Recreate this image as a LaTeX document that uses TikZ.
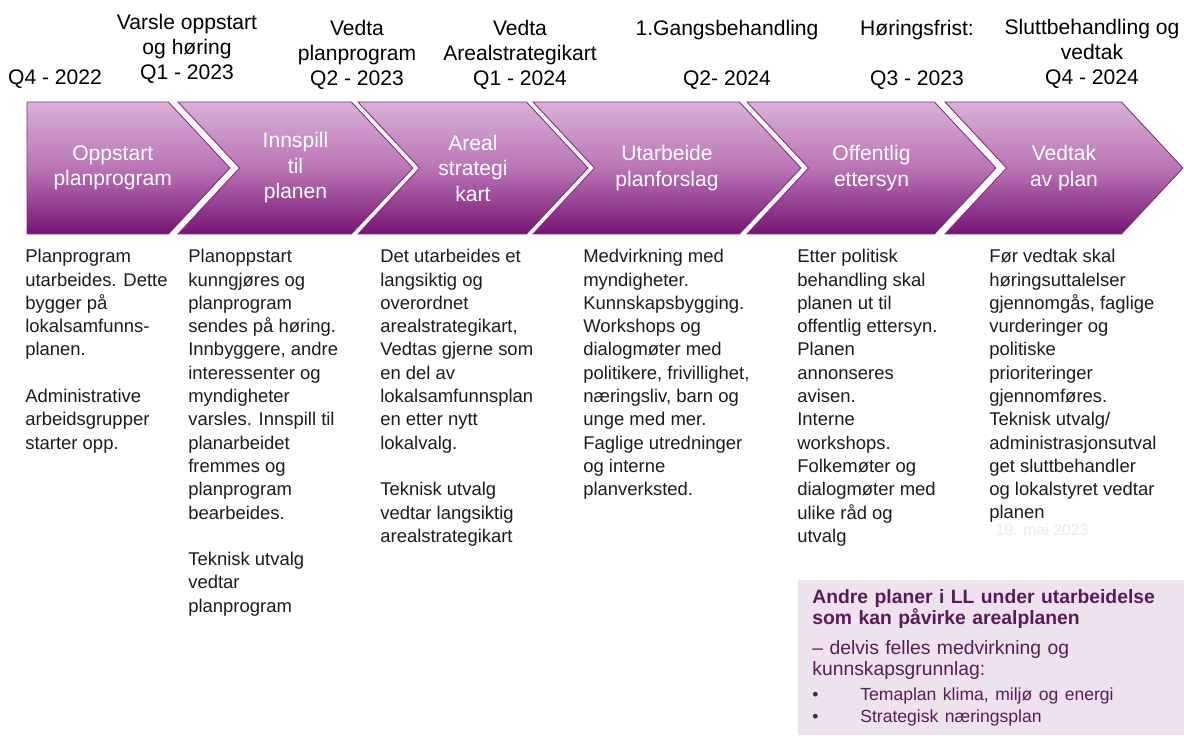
\documentclass[tikz,border=0pt]{standalone}
\usepackage{fontspec}
\setmainfont{Liberation Sans}
\usepackage{xcolor}
\usepackage{tikz}
\usetikzlibrary{shapes.symbols, positioning}

\definecolor{chevtop}{RGB}{218,176,214}
\definecolor{chevmid}{RGB}{186,116,182}
\definecolor{chevbot}{RGB}{118,20,116}
\definecolor{chevedge}{RGB}{130,44,128}
\definecolor{boxfill}{RGB}{239,226,239}
\definecolor{boxtext}{RGB}{88,28,88}
\definecolor{bodytext}{RGB}{28,28,28}
\definecolor{datetext}{RGB}{236,236,236}

\begin{document}
\begin{tikzpicture}[
        x=0.02cm, y=-0.02cm,
        chev/.style={signal, signal to=east, signal from=west, signal pointer angle=94,
            minimum height=2.64cm, inner sep=0pt, outer sep=0pt,
            top color=chevtop, bottom color=chevbot, middle color=chevmid,
            draw=chevedge, line width=0.5pt, text=white, align=center,
            font=\fontsize{12}{14.5}\selectfont},
        toplabel/.style={anchor=north, inner sep=0pt, align=center, font=\fontsize{12}{14.3}\selectfont},
        body/.style={anchor=north west, inner sep=0pt, align=left, text=bodytext,
            font=\fontsize{10.5}{13.26}\selectfont},
        infobox/.style={anchor=north west, fill=boxfill, text=boxtext, align=left,
            minimum width=7.72cm, minimum height=3.1cm, text width=7.16cm,
            inner xsep=0.28cm, inner ysep=0pt, font=\fontsize{11}{12}\selectfont}
    ]
        \useasboundingbox (0,0) rectangle (1184,735);
        \fill[white] (0,0) rectangle (1184,735);

        % Milestones
        \node[toplabel] (m1) at (55,69) {Q4 - 2022};
        \node[toplabel] (m2) at (187,14) {Varsle oppstart\\og høring\\Q1 - 2023};
        \node[toplabel] (m3) at (357,20) {Vedta\\planprogram\\Q2 - 2023};
        \node[toplabel] (m4) at (520,20) {Vedta\\Arealstrategikart\\Q1 - 2024};
        \node[toplabel] (m5) at (727,20) {1.Gangsbehandling\\~\\Q2- 2024};
        \node[toplabel] (m6) at (917,20) {Høringsfrist:\\~\\Q3 - 2023};
        \node[toplabel] (m7) at (1092,19) {Sluttbehandling og\\vedtak\\Q4 - 2024};

        % Phases
        \node[chev, signal from=nowhere, minimum width=4.06cm, anchor=west] (oppstart) at (27,168)
            {\hspace*{0.3cm}Oppstart\hspace*{-0.3cm}\\\hspace*{0.3cm}planprogram\hspace*{-0.3cm}};
        \node[chev, minimum width=4.70cm] (innspill) at (295.5,168) {Innspill\\til\\planen};
        \node[chev, minimum width=4.60cm] (areal) at (473,168) {Areal\\strategi\\kart};
        \node[chev, minimum width=5.36cm] (forslag) at (667,168) {Utarbeide\\planforslag};
        \node[chev, minimum width=4.98cm] (ettersyn) at (871.5,168) {Offentlig\\ettersyn};
        \node[chev, minimum width=4.76cm] (vedtak) at (1064,168) {Vedtak\\av plan};

        % Descriptions
        \node[body] (txtoppstart) at (25,249) {Planprogram\\utarbeides. Dette\\bygger på\\lokalsamfunns-\\planen.\\[13.26pt]Administrative\\arbeidsgrupper\\starter opp.};
        \node[body] (txtinnspill) at (188,249) {Planoppstart\\kunngjøres og\\planprogram\\sendes på høring.\\Innbyggere, andre\\interessenter og\\myndigheter\\varsles. Innspill til\\planarbeidet\\fremmes og\\planprogram\\bearbeides.\\[13.26pt]Teknisk utvalg\\vedtar\\planprogram};
        \node[body] (txtareal) at (380,249) {Det utarbeides et\\langsiktig og\\overordnet\\arealstrategikart,\\Vedtas gjerne som\\en del av\\lokalsamfunnsplan\\en etter nytt\\lokalvalg.\\[13.26pt]Teknisk utvalg\\vedtar langsiktig\\arealstrategikart};
        \node[body] (txtforslag) at (583,249) {Medvirkning med\\myndigheter.\\Kunnskapsbygging.\\Workshops og\\dialogmøter med\\politikere, frivillighet,\\næringsliv, barn og\\unge med mer.\\Faglige utredninger\\og interne\\planverksted.};
        \node[body] (txtettersyn) at (797,249) {Etter politisk\\behandling skal\\planen ut til\\offentlig ettersyn.\\Planen\\annonseres\\avisen.\\Interne\\workshops.\\Folkemøter og\\dialogmøter med\\ulike råd og\\utvalg};
        \node[body] (txtvedtak) at (989,249) {Før vedtak skal\\høringsuttalelser\\gjennomgås, faglige\\vurderinger og\\politiske\\prioriteringer\\gjennomføres.\\Teknisk utvalg/\\administrasjonsutval\\get sluttbehandler\\og lokalstyret vedtar\\planen};

        \node[text=datetext, inner sep=0pt, font=\fontsize{9}{10}\selectfont] (dato) at (1042,530) {19. mai 2023};

        % Other plans
        \node[infobox] (andre) at (798,580) {\textbf{Andre planer i LL under utarbeidelse}\\\textbf{som kan påvirke arealplanen}\\[5pt]– delvis felles medvirkning og\\kunnskapsgrunnlag:\\[2.2pt]\fontsize{10}{12}\selectfont\makebox[0.96cm][l]{•}Temaplan klima, miljø og energi\\[1pt]\fontsize{10}{12}\selectfont\makebox[0.96cm][l]{•}Strategisk næringsplan\\[-7pt]};
    \end{tikzpicture}
\end{document}
